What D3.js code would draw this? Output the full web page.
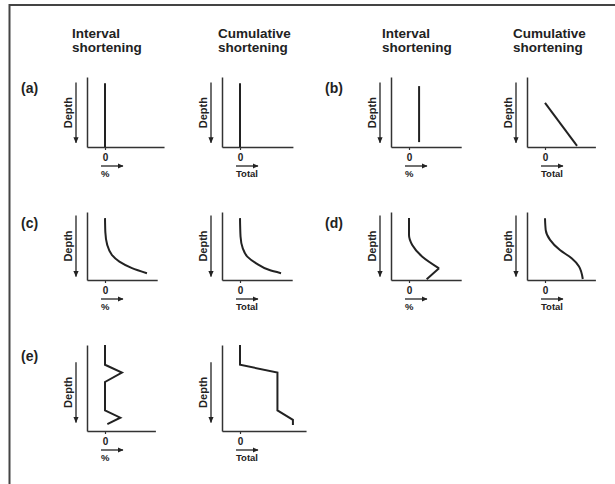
<!DOCTYPE html>
<html lang="en">
<head>
<meta charset="utf-8">
<title>Interval and cumulative shortening</title>
<script src="https://d3js.org/d3.v7.min.js"></script>
<style>
  body { margin: 0; background: #fff; }
  text { font-family: "Liberation Sans", Arial, sans-serif; fill: #222; font-weight: bold; }
</style>
</head>
<body>
<script>
// Text
const columnTitles = [["Interval", "shortening"], ["Cumulative", "shortening"]];
const rowLabels = ["(a)", "(b)", "(c)", "(d)", "(e)"];
const unitLabels = ["%", "Total"];
const depthLabel = "Depth";

// Profiles: [shortening, depth] (depth 0 = top of axis, 10 = x-axis)
const aInterval = [[0, 0.9], [0, 10]];
const aCumulative = [[0, 0.9], [0, 10]];
const bInterval = [[0.56, 1.3], [0.56, 9.3]];
const bCumulative = [[0, 3.7], [1.78, 9.85]];
const cInterval = [[0, 0.9], [0.02, 3.0], [0.12, 4.8], [0.38, 6.3], [0.8, 7.3], [1.5, 8.25], [2.33, 9.0]];
const cCumulative = [[0, 0.9], [0.03, 3.6], [0.15, 5.3], [0.42, 6.6], [0.9, 7.55], [1.6, 8.5], [2.28, 9.0]];
const dIntervalCurve = [[0, 0.9], [0, 3.4], [0.18, 4.85], [0.74, 6.57], [1.67, 8.28]];
const dIntervalTail = [[1.67, 8.28], [0.98, 9.9]];
const dCumulative = [[0, 0.93], [0.04, 2.65], [0.28, 4.1], [0.83, 5.6], [1.48, 6.8], [1.89, 8.0], [2.1, 9.85]];
const eInterval = [[0, 0], [0, 2.3], [0.94, 3.2], [0, 4.3], [0, 7.6], [0.85, 8.45], [0.13, 9.2]];
const eCumulative = [[0, 0], [0, 2.3], [2.08, 3.2], [2.08, 7.6], [2.94, 8.7], [2.94, 9.3]];

// Length of each x-axis in shortening units (per panel: interval, cumulative)
const xMaxInterval = [3.28, 2.9, 2.9, 2.9, 2.8];
const xMaxCumulative = [2.94, 2.8, 2.9, 2.8, 3.67];

// Layout
const W = 615, H = 484;
const groupAxisX = [[87, 222], [391, 527]];   // y-axis x positions, left / right group
const rowTop = [77, 212, 345];
const rowAxisY = [147, 280, 431];
const rowArrow = [[0.8, 9.4], [0.5, 9.5], [2.0, 9.0]];
const unitPx = 18;

const panels = [
  {label: rowLabels[0], row: 0, side: 0, series: [[aInterval, "linear"]], cum: [[aCumulative, "linear"]]},
  {label: rowLabels[1], row: 0, side: 1, series: [[bInterval, "linear"]], cum: [[bCumulative, "linear"]]},
  {label: rowLabels[2], row: 1, side: 0, series: [[cInterval, "smooth"]], cum: [[cCumulative, "smooth"]]},
  {label: rowLabels[3], row: 1, side: 1, series: [[dIntervalCurve, "smooth"], [dIntervalTail, "linear"]], cum: [[dCumulative, "smooth"]]},
  {label: rowLabels[4], row: 2, side: 0, series: [[eInterval, "linear"]], cum: [[eCumulative, "linear"]]}
];

const svg = d3.select("body").append("svg")
  .attr("width", W)
  .attr("height", H);

// Arrowhead
const defs = svg.append("defs");
defs.append("marker")
  .attr("id", "head")
  .attr("viewBox", "0 -3 6 6")
  .attr("refX", 5.5)
  .attr("refY", 0)
  .attr("markerUnits", "userSpaceOnUse")
  .attr("markerWidth", 6)
  .attr("markerHeight", 6)
  .attr("orient", "auto")
  .append("path")
  .attr("d", "M0,-2.6L6,0L0,2.6Z")
  .attr("fill", "#222");

// Frame (top and left edges only)
svg.append("line").attr("x1", 9).attr("x2", W).attr("y1", 5).attr("y2", 5)
  .attr("stroke", "#444").attr("stroke-width", 2);
svg.append("line").attr("x1", 9.5).attr("x2", 9.5).attr("y1", 4).attr("y2", H)
  .attr("stroke", "#444").attr("stroke-width", 2);

// Column titles
const titleX = [72, 218, 382, 513];
titleX.forEach(function (x, i) {
  columnTitles[i % 2].forEach(function (line, j) {
    svg.append("text")
      .attr("x", x)
      .attr("y", 38 + j * 14)
      .style("font-size", "13.5px")
      .text(line);
  });
});

function drawPanel(axisX, top, axisY, xMax, series, unit, arrowExt) {
  const x = d3.scaleLinear().domain([-1, xMax]).range([axisX, axisX + unitPx * (xMax + 1)]);
  const y = d3.scaleLinear().domain([0, 10]).range([top, axisY]);
  const g = svg.append("g");

  // y-axis (no ticks)
  g.append("g")
    .attr("transform", "translate(" + axisX + ",0)")
    .call(d3.axisLeft(y).tickValues([]).tickSizeOuter(0))
    .call(a => a.select(".domain").attr("stroke", "#333").attr("stroke-width", 1.5));

  // x-axis with a single zero tick
  g.append("g")
    .attr("transform", "translate(0," + axisY + ")")
    .call(d3.axisBottom(x).tickValues([0]).tickFormat(d3.format("d"))
      .tickSizeInner(3).tickSizeOuter(0).tickPadding(4))
    .call(a => a.select(".domain").attr("stroke", "#333").attr("stroke-width", 1.5))
    .call(a => a.selectAll(".tick line").attr("stroke", "#333").attr("stroke-width", 1.2))
    .call(a => a.selectAll(".tick text")
      .style("font-family", "'Liberation Sans', Arial, sans-serif")
      .style("font-size", "10px").style("font-weight", "bold").attr("fill", "#222"));

  // direction arrow under zero
  g.append("line")
    .attr("x1", x(0) - 4).attr("x2", x(0) + 18)
    .attr("y1", axisY + 19).attr("y2", axisY + 19)
    .attr("stroke", "#222").attr("stroke-width", 1.3)
    .attr("marker-end", "url(#head)");
  g.append("text")
    .attr("x", x(0) - 4)
    .attr("y", axisY + 30)
    .style("font-size", "9.5px")
    .text(unit);

  // depth arrow and label
  const ay0 = y(arrowExt[0]), ay1 = y(arrowExt[1]);
  g.append("line")
    .attr("x1", axisX - 11).attr("x2", axisX - 11)
    .attr("y1", ay0).attr("y2", ay1)
    .attr("stroke", "#222").attr("stroke-width", 1.3)
    .attr("marker-end", "url(#head)");
  g.append("text")
    .attr("transform", "translate(" + (axisX - 15) + "," + ((ay0 + ay1) / 2) + ") rotate(-90)")
    .attr("text-anchor", "middle")
    .style("font-size", "11px")
    .text(depthLabel);

  // profile
  series.forEach(function (s) {
    const line = d3.line()
      .x(d => x(d[0]))
      .y(d => y(d[1]))
      .curve(s[1] === "smooth" ? d3.curveMonotoneY : d3.curveLinear);
    g.append("path")
      .datum(s[0])
      .attr("d", line)
      .attr("fill", "none")
      .attr("stroke", "#222")
      .attr("stroke-width", 2)
      .attr("stroke-linejoin", "miter");
  });
}

panels.forEach(function (p, i) {
  const cols = groupAxisX[p.side];
  const top = rowTop[p.row], axisY = rowAxisY[p.row];
  drawPanel(cols[0], top, axisY, xMaxInterval[i], p.series, unitLabels[0], rowArrow[p.row]);
  drawPanel(cols[1], top, axisY, xMaxCumulative[i], p.cum, unitLabels[1], rowArrow[p.row]);
  svg.append("text")
    .attr("x", cols[0] - 66)
    .attr("y", top + 16)
    .style("font-size", "14px")
    .text(p.label);
});
</script>
</body>
</html>
